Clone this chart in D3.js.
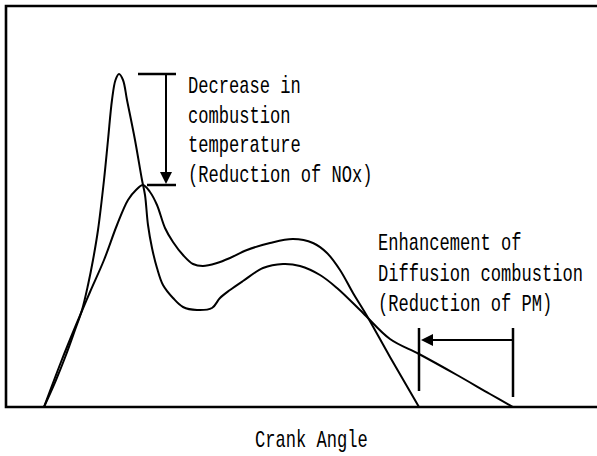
<!DOCTYPE html>
<html>
<head>
<meta charset="utf-8">
<script src="https://cdn.jsdelivr.net/npm/d3@7"></script>
<style>
  body { margin: 0; background: #fff; }
  text { font-family: "Liberation Mono", "DejaVu Sans Mono", monospace; font-size: 23px; fill: #000; }
</style>
</head>
<body>
<svg></svg>
<script>
var width = 597;
var height = 456;

// crank angle (arbitrary units) and heat release rate (arbitrary units)
var convAngle = [7.6, 10.0, 12.0, 13.8, 15.2, 16.4, 17.4, 18.4, 19.6, 20.4, 21.2, 21.9, 22.6, 23.4, 24.2, 25.8, 27.2,
                 27.8, 28.4, 29.2, 30.2, 31.4, 33.4, 35.4, 38.2, 41.2, 42.8, 44.8, 47.4, 51.4, 55.4, 58.8, 62.8,
                 66.2, 71.4, 76.8, 82.6, 90.2, 96.8, 101.4];
var convRate = [0, 6.75, 13, 19.25, 24.25, 30.5, 36.75, 44.25, 56.75, 66.75, 76.75, 81.75, 83.25, 81.75, 76.75, 66.75, 56.75,
                53, 45.5, 39.75, 34.75, 30.5, 27.25, 25, 24.25, 24.75, 27.25, 29.25, 31.5, 34.75, 35.75, 35.25, 33,
                29.75, 23.5, 17, 13.25, 8, 3.25, 0];

var newAngle = [7.6, 11.0, 14.0, 16.8, 19.6, 22.2, 24.4, 26.0, 27.4, 28.8, 30.2, 31.8, 33.4, 35.4, 37.4, 39.4,
                42.2, 44.8, 48.2, 52.8, 57.4, 61.4, 64.2, 66.8, 69.4, 72.2, 76.8, 82.6];
var newRate = [0, 11.25, 20.5, 28.75, 36.75, 45.5, 51.75, 54.25, 55.5, 53.75, 50.5, 44.75, 41.25, 38, 35.75, 35.25,
               36, 37.25, 39.25, 41, 42, 41, 38.5, 34.25, 28.5, 22.75, 12.5, 0];

var noteNOx = ["Decrease in", "combustion", "temperature", "(Reduction of NOx)"];
var notePM = ["Enhancement of", "Diffusion combustion", "(Reduction of PM)"];
var xLabel = "Crank Angle";

var padLeft = 6, padTop = 6, axisY = 407, padRight = 596;
var squeeze = 0.743; // the original font is a narrow monospace

var svg = d3.select("svg")
            .attr("width", width)
            .attr("height", height);

var xScale = d3.scaleLinear()
               .domain([0, 118])
               .range([padLeft, padRight]);

var yScale = d3.scaleLinear()
               .domain([0, 100])
               .range([axisY, 7]);

var conv = convAngle.map(function(a, i) { return [a, convRate[i]]; });
var enh = newAngle.map(function(a, i) { return [a, newRate[i]]; });

var line = d3.line()
             .x(function(d) { return xScale(d[0]); })
             .y(function(d) { return yScale(d[1]); })
             .curve(d3.curveCatmullRom.alpha(0.5));

// frame: left, top and bottom only (right side is cut off)
svg.append("path")
   .attr("d", "M" + width + "," + padTop + "H" + padLeft + "V" + axisY + "H" + width)
   .attr("fill", "none")
   .attr("stroke", "#000")
   .attr("stroke-width", 2.6);

[conv, enh].forEach(function(s) {
  svg.append("path")
     .datum(s)
     .attr("d", line)
     .attr("fill", "none")
     .attr("stroke", "#000")
     .attr("stroke-width", 2);
});

function seg(x1, y1, x2, y2, w) {
  svg.append("line")
     .attr("x1", x1).attr("y1", y1).attr("x2", x2).attr("y2", y2)
     .attr("stroke", "#000").attr("stroke-width", w || 2);
}

// NOx annotation: from conventional peak down to the new peak
var peakHi = yScale(d3.max(convRate));
var peakLo = yScale(d3.max(newRate));
var ax = 166;
seg(138, peakHi, 176, peakHi, 2.5);
seg(147, peakLo, 176, peakLo, 2.5);
seg(ax, peakHi, ax, peakLo - 12, 2);
svg.append("path")
   .attr("d", "M" + (ax - 6) + "," + (peakLo - 13) + "L" + (ax + 6) + "," + (peakLo - 13) + "L" + ax + "," + (peakLo - 1) + "Z")
   .attr("fill", "#000");

// PM annotation: between the two end points of combustion
var endOld = xScale(convAngle[convAngle.length - 1]);
var endNew = xScale(newAngle[newAngle.length - 1]);
seg(endNew, 328, endNew, 391, 2.5);
seg(endOld, 328, endOld, 397, 2.5);
seg(endNew + 12, 340, endOld, 340, 2);
svg.append("path")
   .attr("d", "M" + (endNew + 2) + ",340L" + (endNew + 14) + ",334L" + (endNew + 14) + ",346Z")
   .attr("fill", "#000");

function block(lines, x, y0, dy) {
  svg.selectAll(null)
     .data(lines)
     .enter()
     .append("text")
     .attr("transform", function(d, i) {
       return "translate(" + x + "," + (y0 + i * dy) + ") scale(" + squeeze + ",1)";
     })
     .text(function(d) { return d; });
}

block(noteNOx, 188, 93, 29.5);
block(notePM, 378, 250, 30.5);
block([xLabel], 255, 447, 0);
</script>
</body>
</html>
